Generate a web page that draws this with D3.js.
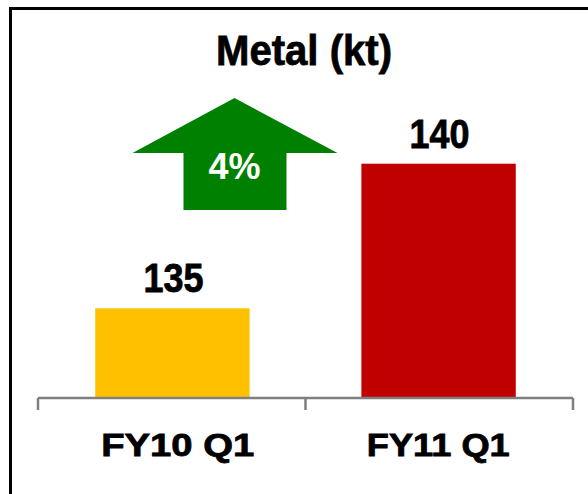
<!DOCTYPE html>
<html>
<head>
<meta charset="utf-8">
<script src="https://cdn.jsdelivr.net/npm/d3@7/dist/d3.min.js"></script>
<style>
  html, body { margin: 0; padding: 0; background: #fff; }
  svg { display: block; }
  text { font-family: "Liberation Sans", Arial, sans-serif; font-weight: bold; }
  text.dark { stroke: #000; stroke-width: 0.8px; }
</style>
</head>
<body>
<script>
// ---- data ----
const title = "Metal (kt)";
const categories = ["FY10 Q1", "FY11 Q1"];
const values = [135, 140];
const valueLabels = ["135", "140"];
const barColors = ["#FFC000", "#C00000"];
const changeLabel = "4%";

// ---- drawing ----
const W = 588, H = 494;
const svg = d3.select("body").append("svg").attr("width", W).attr("height", H);

// frame
svg.append("rect")
  .attr("x", 10.5).attr("y", 8.5)
  .attr("width", 640).attr("height", 560)
  .attr("fill", "#fff").attr("stroke", "#000").attr("stroke-width", 3);

const axisY = 398;
const x = d3.scaleBand().domain(categories).range([38, 573]).padding(0);
const xBar = d3.scaleBand().domain(categories).range([38, 573])
  .paddingInner(0.42).paddingOuter(0.215);
const y = d3.scaleLinear().domain([131.9, 140]).range([axisY, 163.7]);

// title
svg.append("text")
  .attr("class", "dark")
  .attr("x", 304).attr("y", 65)
  .attr("text-anchor", "middle")
  .attr("font-size", 43)
  .attr("textLength", 176).attr("lengthAdjust", "spacingAndGlyphs")
  .text(title);

// bars
svg.selectAll("rect.bar").data(categories).join("rect")
  .attr("class", "bar")
  .attr("x", d => xBar(d))
  .attr("width", xBar.bandwidth())
  .attr("y", (d, i) => y(values[i]))
  .attr("height", (d, i) => axisY - y(values[i]))
  .attr("fill", (d, i) => barColors[i]);

// value labels
svg.selectAll("text.val").data(categories).join("text")
  .attr("class", "val dark")
  .attr("x", d => xBar(d) + xBar.bandwidth() / 2 + 1)
  .attr("y", (d, i) => y(values[i]) - 16)
  .attr("text-anchor", "middle")
  .attr("font-size", 40)
  .attr("textLength", 60).attr("lengthAdjust", "spacingAndGlyphs")
  .text((d, i) => valueLabels[i]);

// axis line and tick marks at band boundaries
const axisColor = "#7F7F7F";
svg.append("line")
  .attr("x1", x.range()[0]).attr("x2", x.range()[1])
  .attr("y1", axisY).attr("y2", axisY)
  .attr("stroke", axisColor).attr("stroke-width", 2.5);
const bounds = categories.map(c => x(c)).concat([x(categories[categories.length - 1]) + x.bandwidth()]);
svg.selectAll("line.tick").data(bounds).join("line")
  .attr("class", "tick")
  .attr("x1", d => d).attr("x2", d => d)
  .attr("y1", axisY).attr("y2", axisY + 12)
  .attr("stroke", axisColor).attr("stroke-width", 2.5);

// category labels
svg.selectAll("text.cat").data(categories).join("text")
  .attr("class", "cat dark")
  .attr("x", (d, i) => x(d) + x.bandwidth() / 2 + (i === 0 ? 6 : -1))
  .attr("y", 456)
  .attr("text-anchor", "middle")
  .attr("font-size", 32)
  .attr("textLength", (d, i) => i === 0 ? 153 : 143)
  .attr("lengthAdjust", "spacingAndGlyphs")
  .text(d => d);

// green up arrow annotation
const ax = 234.5;
const arrow = d3.path();
arrow.moveTo(ax, 98);
arrow.lineTo(ax + 103, 153);
arrow.lineTo(ax + 52, 153);
arrow.lineTo(ax + 52, 210);
arrow.lineTo(ax - 51, 210);
arrow.lineTo(ax - 51, 153);
arrow.lineTo(ax - 102, 153);
arrow.closePath();
svg.append("path").attr("d", arrow.toString()).attr("fill", "#008000");
svg.append("text")
  .attr("x", ax).attr("y", 179)
  .attr("text-anchor", "middle")
  .attr("font-size", 36)
  .attr("fill", "#fff")
  .text(changeLabel);
</script>
</body>
</html>
